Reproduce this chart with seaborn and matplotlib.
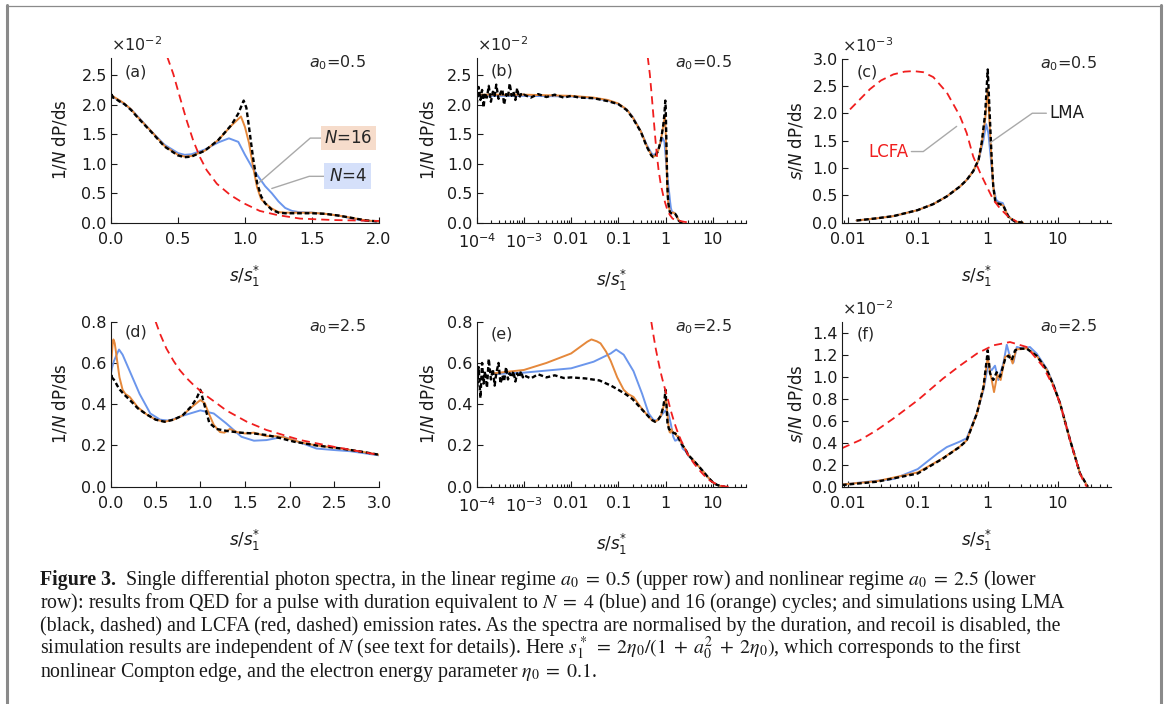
import matplotlib
matplotlib.use("Agg")
import matplotlib.pyplot as plt
import numpy as np
import seaborn as sns
from matplotlib.lines import Line2D
from matplotlib.ticker import FormatStrFormatter, LogLocator, NullFormatter, MultipleLocator

# ---- a0 = 0.5, 1/N dP/ds in units of 1e-2 (panels a, b) ----
s_a_n4 = [1e-4, 1e-3, 0.01, 0.03, 0.06, 0.1, 0.15, 0.2, 0.3, 0.4, 0.5, 0.55, 0.6, 0.7, 0.8, 0.88,
          0.95, 1.0, 1.05, 1.1, 1.15, 1.2, 1.25, 1.3, 1.35, 1.4, 1.5, 1.6, 1.7, 1.8, 1.9, 2.0, 2.3]
dp_a_n4 = [2.15, 2.15, 2.14, 2.11, 2.07, 2.01, 1.92, 1.80, 1.55, 1.32, 1.18, 1.15, 1.16, 1.24, 1.36, 1.43,
           1.37, 1.15, 0.95, 0.78, 0.62, 0.50, 0.36, 0.25, 0.20, 0.18, 0.17, 0.15, 0.12, 0.07, 0.03, 0.02, 0.0]

s_a_n16 = [1e-4, 1e-3, 0.01, 0.03, 0.06, 0.1, 0.15, 0.2, 0.3, 0.4, 0.5, 0.55, 0.6, 0.7, 0.8, 0.9, 0.97,
           1.0, 1.03, 1.06, 1.09, 1.12, 1.15, 1.2, 1.25, 1.3, 1.4, 1.5, 1.6, 1.7, 1.8, 1.9, 2.0, 2.3]
dp_a_n16 = [2.17, 2.17, 2.15, 2.12, 2.08, 2.02, 1.92, 1.79, 1.55, 1.30, 1.15, 1.12, 1.13, 1.22, 1.40, 1.65, 1.80,
            1.62, 1.35, 0.95, 0.60, 0.40, 0.33, 0.24, 0.18, 0.17, 0.17, 0.17, 0.15, 0.12, 0.08, 0.04, 0.02, 0.0]

# LMA simulation: noisy low-s part (log panels only) + smooth part
s_noise = [1.0e-4, 1.1e-4, 1.2e-4, 1.3e-4, 1.4e-4, 1.5e-4, 1.65e-4, 1.8e-4, 2.0e-4, 2.2e-4, 2.4e-4, 2.6e-4, 2.9e-4,
           3.2e-4, 3.5e-4, 3.8e-4, 4.2e-4, 4.6e-4, 5.0e-4, 5.5e-4, 6.0e-4, 6.6e-4, 7.2e-4, 7.9e-4, 8.7e-4, 9.5e-4]
dp_a_lma_noise = [2.00, 2.30, 2.08, 2.25, 1.95, 2.20, 2.12, 2.32, 2.05, 2.22, 2.15, 2.34, 2.10,
                  2.20, 2.26, 2.00, 2.18, 2.12, 2.36, 2.15, 2.22, 2.08, 2.28, 2.12, 2.18, 2.15]
s_a_lma = [1e-3, 1.4e-3, 2e-3, 3e-3, 4.5e-3, 7e-3, 0.01, 0.015, 0.03, 0.06, 0.1, 0.15, 0.2, 0.3, 0.4, 0.5,
           0.55, 0.6, 0.7, 0.8, 0.9, 0.95, 0.99, 1.01, 1.03, 1.06, 1.09, 1.12, 1.15, 1.2, 1.25, 1.3, 1.4,
           1.5, 1.6, 1.7, 1.8, 1.9, 2.0, 2.3]
dp_a_lma = [2.17, 2.12, 2.18, 2.13, 2.17, 2.12, 2.15, 2.12, 2.11, 2.06, 2.01, 1.91, 1.78, 1.54, 1.29, 1.14,
            1.11, 1.12, 1.22, 1.40, 1.66, 1.85, 2.07, 1.95, 1.62, 1.10, 0.68, 0.45, 0.33, 0.22, 0.17, 0.16, 0.16,
            0.16, 0.15, 0.12, 0.08, 0.04, 0.02, 0.0]

s_a_lcfa = [0.42, 0.465, 0.515, 0.565, 0.614, 0.664, 0.714, 0.79, 0.89, 0.99, 1.11, 1.24, 1.41, 1.66, 2.0, 2.5, 3.0]
dp_a_lcfa = [2.81, 2.52, 2.12, 1.73, 1.39, 1.11, 0.89, 0.66, 0.47, 0.33, 0.20, 0.13, 0.07, 0.045, 0.03, 0.015, 0.005]

# ---- a0 = 0.5, s/N dP/ds in units of 1e-3 (panel c) ----
s_c_n4 = [0.0134, 0.026, 0.045, 0.1, 0.167, 0.26, 0.4, 0.5, 0.62, 0.74, 0.87, 0.95, 1.02, 1.1, 1.2, 1.32,
          1.42, 1.64, 1.87, 2.2, 2.6]
sdp_c_n4 = [0.04, 0.08, 0.12, 0.23, 0.34, 0.48, 0.66, 0.78, 0.94, 1.14, 1.52, 1.80, 1.64, 1.21, 0.66, 0.42,
            0.38, 0.36, 0.17, 0.05, 0.0]
s_c_n16 = [0.0134, 0.026, 0.045, 0.1, 0.167, 0.26, 0.4, 0.5, 0.62, 0.74, 0.82, 0.92, 1.0, 1.08, 1.14, 1.2,
           1.29, 1.5, 1.67, 1.97, 2.46, 3.2]
sdp_c_n16 = [0.04, 0.08, 0.12, 0.23, 0.34, 0.48, 0.66, 0.78, 0.94, 1.15, 1.45, 1.89, 2.45, 1.64, 1.10, 0.66,
             0.37, 0.34, 0.31, 0.11, 0.02, 0.0]
s_c_lma = [0.0134, 0.026, 0.045, 0.1, 0.167, 0.26, 0.4, 0.5, 0.62, 0.74, 0.82, 0.92, 1.0, 1.06, 1.14, 1.2,
           1.29, 1.5, 1.67, 1.97, 2.46, 3.2]
sdp_c_lma = [0.04, 0.08, 0.12, 0.23, 0.34, 0.48, 0.66, 0.78, 0.94, 1.15, 1.46, 2.00, 2.80, 2.07, 1.15, 0.66,
             0.36, 0.34, 0.31, 0.11, 0.02, 0.0]
s_c_lcfa = [0.0108, 0.0208, 0.03, 0.045, 0.065, 0.087, 0.12, 0.167, 0.26, 0.40, 0.50, 0.62, 0.78, 0.97,
            1.2, 1.5, 1.97, 2.6]
sdp_c_lcfa = [2.07, 2.44, 2.60, 2.71, 2.76, 2.77, 2.75, 2.66, 2.38, 1.95, 1.64, 1.21, 0.91, 0.66,
              0.42, 0.26, 0.11, 0.02]

# ---- a0 = 2.5, 1/N dP/ds (panels d, e) ----
s_d_n4 = [2.3e-4, 1e-3, 0.01, 0.03, 0.069, 0.09, 0.13, 0.21, 0.32, 0.44, 0.55, 0.65, 0.81, 1.0, 1.15, 1.29,
          1.46, 1.6, 1.74, 1.93, 2.12, 2.3, 2.49, 2.68, 3.0, 4.0, 5.0, 6.5, 8.0, 10.0, 12.0, 15.0, 18.0]
dp_d_n4 = [0.546, 0.553, 0.574, 0.606, 0.646, 0.665, 0.64, 0.56, 0.45, 0.355, 0.325, 0.32, 0.345, 0.37, 0.355,
           0.307, 0.242, 0.223, 0.226, 0.242, 0.214, 0.185, 0.178, 0.172, 0.152, 0.125, 0.10, 0.07, 0.045,
           0.022, 0.01, 0.002, 0.0]
s_d_n16 = [2.3e-4, 1e-3, 3e-3, 0.01, 0.016, 0.022, 0.027, 0.035, 0.042, 0.055, 0.069, 0.095, 0.13, 0.16, 0.21,
           0.3, 0.4, 0.5, 0.6, 0.7, 0.8, 0.9, 1.0, 1.05, 1.09, 1.15, 1.22, 1.27, 1.33, 1.41, 1.5, 1.6, 1.74,
           1.85, 1.93, 2.12, 2.3, 2.56, 2.8, 3.0, 4.0, 5.0, 6.5, 8.0, 10.0, 12.0, 15.0, 18.0]
dp_d_n16 = [0.55, 0.566, 0.60, 0.646, 0.68, 0.703, 0.714, 0.705, 0.695, 0.655, 0.61, 0.53, 0.47, 0.45, 0.435,
            0.385, 0.35, 0.325, 0.315, 0.325, 0.345, 0.385, 0.42, 0.405, 0.36, 0.30, 0.265, 0.262, 0.28, 0.265,
            0.258, 0.262, 0.245, 0.245, 0.24, 0.215, 0.2, 0.186, 0.17, 0.155, 0.125, 0.10, 0.07, 0.045, 0.022,
            0.01, 0.002, 0.0]
dp_d_lma_noise = [0.45, 0.58, 0.43, 0.60, 0.50, 0.56, 0.48, 0.62, 0.52, 0.57, 0.49, 0.55, 0.60,
                  0.50, 0.54, 0.51, 0.58, 0.52, 0.55, 0.53, 0.56, 0.51, 0.55, 0.53, 0.56, 0.53]
s_d_lma = [1e-3, 1.4e-3, 2e-3, 3e-3, 4.5e-3, 7e-3, 0.01, 0.02, 0.04, 0.07, 0.1, 0.14, 0.2, 0.3, 0.4, 0.5,
           0.6, 0.7, 0.8, 0.9, 0.96, 1.0, 1.05, 1.1, 1.18, 1.3, 1.45, 1.6, 1.75, 1.9, 2.05, 2.3, 2.56, 2.8,
           3.0, 4.0, 5.0, 6.5, 8.0, 10.0, 12.0, 15.0, 18.0]
dp_d_lma = [0.54, 0.525, 0.545, 0.53, 0.54, 0.527, 0.53, 0.525, 0.515, 0.49, 0.47, 0.45, 0.425, 0.38, 0.35,
            0.325, 0.315, 0.325, 0.345, 0.39, 0.43, 0.47, 0.39, 0.31, 0.28, 0.27, 0.262, 0.258, 0.25, 0.235,
            0.218, 0.2, 0.186, 0.17, 0.155, 0.125, 0.10, 0.07, 0.045, 0.022, 0.01, 0.002, 0.0]
s_d_lcfa = [0.5, 0.55, 0.62, 0.7, 0.77, 0.85, 0.92, 1.0, 1.07, 1.15, 1.29, 1.52, 1.74, 2.12, 2.49, 3.0, 4.0,
            5.0, 6.45, 8.0, 10.5, 14.5, 20.0, 24.0]
dp_d_lcfa = [0.8, 0.74, 0.67, 0.61, 0.565, 0.525, 0.495, 0.465, 0.44, 0.415, 0.37, 0.315, 0.275, 0.226, 0.194,
             0.154, 0.113, 0.085, 0.057, 0.035, 0.019, 0.005, 0.0, 0.0]

# ---- a0 = 2.5, s/N dP/ds in units of 1e-2 (panel f) ----
s_f_n4 = [0.0083, 0.045, 0.1, 0.19, 0.26, 0.4, 0.5, 0.7, 0.87, 1.0, 1.14, 1.27, 1.42, 1.67, 1.87, 2.08, 2.33,
          2.6, 3.2, 4.0, 5.0, 7.0, 8.7, 10.8, 15.0, 20.8, 26.8]
sdp_f_n4 = [0.02, 0.07, 0.16, 0.3, 0.36, 0.41, 0.44, 0.67, 0.88, 1.09, 1.06, 1.10, 0.97, 1.12, 1.29, 1.18, 1.13,
            1.27, 1.255, 1.27, 1.21, 1.07, 0.93, 0.76, 0.425, 0.12, 0.0]
s_f_n16 = [0.0083, 0.026, 0.1, 0.23, 0.4, 0.5, 0.7, 0.87, 0.97, 1.0, 1.07, 1.14, 1.23, 1.37, 1.53, 1.77, 2.04,
           2.27, 2.55, 3.0, 3.6, 5.0, 7.0, 8.7, 10.8, 15.0, 20.8, 26.8]
sdp_f_n16 = [0.02, 0.05, 0.13, 0.26, 0.365, 0.42, 0.665, 0.90, 1.12, 1.18, 1.05, 0.97, 0.86, 1.02, 0.97, 1.18,
             1.20, 1.12, 1.25, 1.25, 1.26, 1.19, 1.06, 0.92, 0.756, 0.423, 0.12, 0.0]
s_f_lma = [0.0083, 0.026, 0.1, 0.23, 0.4, 0.5, 0.7, 0.87, 0.97, 1.0, 1.08, 1.2, 1.34, 1.5, 1.77, 1.97, 2.2,
           2.46, 2.9, 3.6, 5.0, 7.0, 8.7, 10.8, 15.0, 20.8, 26.8]
sdp_f_lma = [0.015, 0.045, 0.12, 0.257, 0.363, 0.42, 0.665, 0.907, 1.16, 1.24, 1.03, 0.97, 1.04, 1.0, 1.16,
             1.19, 1.15, 1.24, 1.255, 1.255, 1.19, 1.06, 0.92, 0.756, 0.423, 0.12, 0.0]
s_f_lcfa = [0.0083, 0.015, 0.026, 0.045, 0.1, 0.23, 0.4, 0.7, 1.2, 2.08, 3.6, 6.2, 8.7, 10.8, 15.0, 18.0,
            20.8, 24.0, 26.0]
sdp_f_lcfa = [0.35, 0.423, 0.514, 0.62, 0.786, 0.983, 1.10, 1.21, 1.285, 1.315, 1.27, 1.09, 0.907, 0.756, 0.423,
              0.25, 0.12, 0.03, 0.0]

log_ticks_b = [1e-4, 1e-3, 1e-2, 1e-1, 1, 10]
log_labels_b = [r"$10^{-4}$", r"$10^{-3}$", "0.01", "0.1", "1", "10"]
log_ticks_c = [1e-2, 1e-1, 1, 10]
log_labels_c = ["0.01", "0.1", "1", "10"]

BLUE = "#6b96ec"
ORANGE = "#e5883b"
RED = "#f01e1e"
GRAY = "#a9a9a9"

sns.set_theme(style="ticks")
plt.rcParams["font.family"] = ["DejaVu Sans"]
plt.rcParams["mathtext.fontset"] = "dejavusans"
plt.rcParams["axes.edgecolor"] = "#1a1a1a"
plt.rcParams["axes.linewidth"] = 0.8

STYLES = {
    "n4": dict(color=BLUE, linewidth=1.4),
    "n16": dict(color=ORANGE, linewidth=1.4),
    "lma": dict(color="black", linewidth=1.7, linestyle=(0, (2.0, 1.2))),
    "lcfa": dict(color=RED, linewidth=1.3, linestyle=(0, (4.5, 2.8))),
}

W, H = 1174, 704
fig = plt.figure(figsize=(W / 100, H / 100), dpi=100)


def box(left, right, top, bottom):
    return [left / W, 1 - bottom / H, (right - left) / W, (bottom - top) / H]


def curve(ax, x, y, kind):
    sns.lineplot(x=x, y=y, ax=ax, sort=False, estimator=None, errorbar=None,
                 legend=False, **STYLES[kind])


def setup(ax, xlim, ylim, ystep, ylabel, ylabelpad, xstep=None, xticks=None, xlabels=None):
    ax.set_xlim(*xlim)
    ax.set_ylim(*ylim)
    if xticks is not None:
        ax.set_xticks(xticks, xlabels)
        ax.xaxis.set_minor_locator(LogLocator(base=10, subs=(2, 3, 4, 5, 6, 7, 8, 9), numticks=30))
        ax.xaxis.set_minor_formatter(NullFormatter())
    else:
        ax.xaxis.set_major_locator(MultipleLocator(xstep))
        ax.xaxis.set_major_formatter(FormatStrFormatter("%.1f"))
    ax.yaxis.set_major_locator(MultipleLocator(ystep))
    ax.yaxis.set_major_formatter(FormatStrFormatter("%.1f"))
    sns.despine(ax=ax)
    ax.tick_params(which="both", direction="in", color="#1a1a1a", width=0.8, labelsize=11.5,
                   labelcolor="#1a1a1a")
    ax.tick_params(which="major", length=4.5)
    ax.tick_params(which="minor", length=2.5)
    ax.tick_params(axis="x", pad=7)
    ax.tick_params(axis="y", pad=3)
    ax.set_xlabel(r"$s/s_1^{*}$", fontsize=12, labelpad=12, color="#1a1a1a")
    ax.set_ylabel(ylabel, fontsize=12, labelpad=ylabelpad, color="#1a1a1a")


def decorate(ax, letter, a0, scale=None, lx=0.05, ly=0.92):
    ax.text(lx, ly, letter, transform=ax.transAxes, ha="left", va="center", fontsize=11.5)
    ax.text(0.95, 0.97, r"$a_0$=" + a0, transform=ax.transAxes, ha="right", va="center", fontsize=11.5)
    if scale:
        ax.text(0.0, 1.02, scale, transform=ax.transAxes, ha="left", va="bottom", fontsize=11.5)


ylab_dp = r"1/$N$ dP/ds"
ylab_sdp = r"$s$/$N$ dP/ds"

# ---------------- upper row ----------------
ax_a = fig.add_axes(box(111, 379, 57.5, 222.7))
curve(ax_a, s_a_n4, dp_a_n4, "n4")
curve(ax_a, s_a_n16, dp_a_n16, "n16")
curve(ax_a, s_a_lma, dp_a_lma, "lma")
curve(ax_a, s_a_lcfa, dp_a_lcfa, "lcfa")
setup(ax_a, (0, 2.0), (0, 2.8), 0.5, ylab_dp, 8.5, xstep=0.5)
decorate(ax_a, "(a)", "0.5", r"$\times10^{-2}$", lx=0.052, ly=0.915)
ax_a.annotate(r"$N$=16", xy=(1.10, 0.67), xytext=(1.772, 1.434), ha="center", va="center", fontsize=12,
              bbox=dict(boxstyle="square,pad=0.2", fc="#f6dccb", ec="none"),
              arrowprops=dict(arrowstyle="-", color=GRAY, lw=1.0, shrinkA=0, shrinkB=0,
                              connectionstyle="angle,angleA=0,angleB=41"))
ax_a.annotate(r"$N$=4", xy=(1.20, 0.58), xytext=(1.765, 0.786), ha="center", va="center", fontsize=12,
              bbox=dict(boxstyle="square,pad=0.25", fc="#d5e0fa", ec="none"),
              arrowprops=dict(arrowstyle="-", color=GRAY, lw=1.0, shrinkA=0, shrinkB=0,
                              connectionstyle="angle,angleA=0,angleB=18"))

ax_b = fig.add_axes(box(476.7, 745.7, 57.5, 222.7))
ax_b.set_xscale("log")
curve(ax_b, s_a_n4, dp_a_n4, "n4")
curve(ax_b, s_a_n16, dp_a_n16, "n16")
curve(ax_b, s_noise + s_a_lma, dp_a_lma_noise + dp_a_lma, "lma")
curve(ax_b, s_a_lcfa, dp_a_lcfa, "lcfa")
setup(ax_b, (1e-4, 50), (0, 2.8), 0.5, ylab_dp, 7, xticks=log_ticks_b, xlabels=log_labels_b)
decorate(ax_b, "(b)", "0.5", r"$\times10^{-2}$")

ax_c = fig.add_axes(box(842, 1110.7, 58.5, 222.7))
ax_c.set_xscale("log")
curve(ax_c, s_c_n4, sdp_c_n4, "n4")
curve(ax_c, s_c_n16, sdp_c_n16, "n16")
curve(ax_c, s_c_lma, sdp_c_lma, "lma")
curve(ax_c, s_c_lcfa, sdp_c_lcfa, "lcfa")
setup(ax_c, (0.0083, 57), (0, 3.0), 0.5, ylab_sdp, 5, xticks=log_ticks_c, xlabels=log_labels_c)
decorate(ax_c, "(c)", "0.5", r"$\times10^{-3}$", lx=0.056)
ax_c.annotate("LCFA", xy=(0.36, 1.76), xytext=(0.0377, 1.30), ha="center", va="center", fontsize=12,
              color=RED, arrowprops=dict(arrowstyle="-", color=GRAY, lw=1.0, shrinkA=0, shrinkB=0,
                                         connectionstyle="angle,angleA=0,angleB=37"))
ax_c.annotate("LMA", xy=(1.08, 1.46), xytext=(13.6, 2.0), ha="center", va="center", fontsize=12,
              color="#1a1a1a", arrowprops=dict(arrowstyle="-", color=GRAY, lw=1.0, shrinkA=0, shrinkB=0,
                                               connectionstyle="angle,angleA=0,angleB=35"))

# ---------------- lower row ----------------
ax_d = fig.add_axes(box(111, 379, 321.7, 486.7))
curve(ax_d, s_d_n4, dp_d_n4, "n4")
curve(ax_d, s_d_n16, dp_d_n16, "n16")
curve(ax_d, s_d_lma, dp_d_lma, "lma")
curve(ax_d, s_d_lcfa, dp_d_lcfa, "lcfa")
setup(ax_d, (0, 3.0), (0, 0.8), 0.2, ylab_dp, 8.5, xstep=0.5)
decorate(ax_d, "(d)", "2.5", lx=0.052, ly=0.94)

ax_e = fig.add_axes(box(476.7, 745.7, 321.7, 486.7))
ax_e.set_xscale("log")
curve(ax_e, s_d_n4, dp_d_n4, "n4")
curve(ax_e, s_d_n16, dp_d_n16, "n16")
curve(ax_e, s_noise + s_d_lma, dp_d_lma_noise + dp_d_lma, "lma")
curve(ax_e, s_d_lcfa, dp_d_lcfa, "lcfa")
setup(ax_e, (1e-4, 50), (0, 0.8), 0.2, ylab_dp, 7, xticks=log_ticks_b, xlabels=log_labels_b)
decorate(ax_e, "(e)", "2.5", ly=0.925)

ax_f = fig.add_axes(box(842, 1110.7, 321.7, 486.7))
ax_f.set_xscale("log")
curve(ax_f, s_f_n4, sdp_f_n4, "n4")
curve(ax_f, s_f_n16, sdp_f_n16, "n16")
curve(ax_f, s_f_lma, sdp_f_lma, "lma")
curve(ax_f, s_f_lcfa, sdp_f_lcfa, "lcfa")
setup(ax_f, (0.0083, 57), (0, 1.5), 0.2, ylab_sdp, 5, xticks=log_ticks_c, xlabels=log_labels_c)
decorate(ax_f, "(f)", "2.5", r"$\times10^{-2}$", lx=0.056, ly=0.925)

# ---------------- page frame ----------------
frame = "#8a8a8a"
fig.add_artist(Line2D([6.5 / W, 6.5 / W], [0, 1 - 5 / H], transform=fig.transFigure, color=frame, lw=2.2))
fig.add_artist(Line2D([1160.5 / W, 1160.5 / W], [0, 1 - 5 / H], transform=fig.transFigure, color=frame, lw=2.2))
fig.add_artist(Line2D([5.5 / W, 1162 / W], [1 - 5.5 / H, 1 - 5.5 / H], transform=fig.transFigure,
                      color=frame, lw=0.9))

# ---------------- caption ----------------
cap_kw = dict(family="Liberation Serif", math_fontfamily="stix", fontsize=14.3, color="#1a1a1a",
              va="baseline", ha="left")
lines = [
    r"Single differential photon spectra, in the linear regime $a_0\;=\;0.5$ (upper row) and nonlinear regime $a_0\;=\;2.5$ (lower",
    r"row): results from QED for a pulse with duration equivalent to $N\;=\;4$ (blue) and 16 (orange) cycles; and simulations using LMA",
    r"(black, dashed) and LCFA (red, dashed) emission rates. As the spectra are normalised by the duration, and recoil is disabled, the",
    r"simulation results are independent of $N$ (see text for details). Here $s_1^*\;=\;2\eta_0/(1\;+\;a_0^2\;+\;2\eta_0)$, which corresponds to the first",
    r"nonlinear Compton edge, and the electron energy parameter $\eta_0\;=\;0.1$.",
]
x0 = 40 / W
y0 = 585
title = fig.text(x0, 1 - y0 / H, "Figure 3.", fontweight="bold", **cap_kw)
renderer = fig.canvas.get_renderer()
bb = title.get_window_extent(renderer=renderer)
fig.text(bb.x1 / W + 9 / W, 1 - y0 / H, lines[0], **cap_kw)
for i, line in enumerate(lines[1:], start=1):
    fig.text(x0, 1 - (y0 + 23 * i) / H, line, **cap_kw)

fig.savefig("out.png", dpi=100)
